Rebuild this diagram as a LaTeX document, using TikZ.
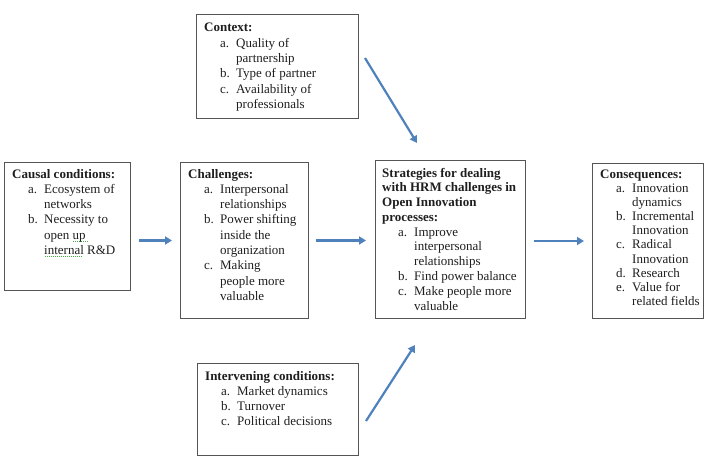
\documentclass[tikz,border=0pt]{standalone}
\usepackage{fontspec}
\setmainfont{Liberation Serif}
\usetikzlibrary{arrows.meta}
\definecolor{arrblue}{RGB}{79,129,189}
\definecolor{boxgray}{RGB}{85,85,85}
\definecolor{txtgray}{RGB}{30,30,30}
\definecolor{spell}{RGB}{70,175,70}
\newcommand\hd[1]{\multicolumn{2}{@{}l@{}}{\textbf{#1}}}
\newcommand\lbl[1]{\hspace*{16pt}\makebox[16pt][l]{#1}}
\newcommand\gl[1]{\begingroup\setbox0\hbox{#1}\rlap{\color{spell}\raisebox{-2.6pt}{\makebox[\wd0]{\leaders\hbox to 2pt{\hss\rule{1pt}{0.8pt}\hss}\hfill}}}\box0\endgroup}
\tikzset{
  box/.style={draw=boxgray, line width=1pt, rectangle, inner sep=0pt, anchor=north west},
  txt/.style={inner sep=0pt, anchor=base west, text=txtgray, font=\fontsize{13}{15.3}\selectfont},
  midtxt/.style={txt, font=\fontsize{13}{14.8}\selectfont},
  tighttxt/.style={txt, font=\fontsize{13}{14.2}\selectfont},
  arr/.style={draw=arrblue, line width=2.2pt, -{Triangle[length=7pt,width=8pt]}}
}
\begin{document}
\begin{tikzpicture}[x=1pt,y=-1pt]
\useasboundingbox (0,0) rectangle (705,460);
% boxes
\node[box, minimum width=126pt, minimum height=128pt] (causal) at (4,162) {};
\node[box, minimum width=128pt, minimum height=156pt] (chal) at (180,162) {};
\node[box, minimum width=150pt, minimum height=158pt] (strat) at (375,160) {};
\node[box, minimum width=111pt, minimum height=155pt] (cons) at (592,163) {};
\node[box, minimum width=162pt, minimum height=104pt] (ctx) at (196,14) {};
\node[box, minimum width=161pt, minimum height=92pt] (interv) at (197,363) {};
% texts
\node[txt] (causalT) at (12,178) {\begin{tabular}[t]{@{}l@{}l@{}}
\hd{Causal conditions:}\\
\lbl{a.}&Ecosystem of\\
&networks\\
\lbl{b.}&Necessity to\\
&open \gl{up\ }\\
&\gl{internal} R\&D
\end{tabular}};
\node[txt] (chalT) at (188,178) {\begin{tabular}[t]{@{}l@{}l@{}}
\hd{Challenges:}\\
\lbl{a.}&Interpersonal\\
&relationships\\
\lbl{b.}&Power shifting\\
&inside the\\
&organization\\
\lbl{c.}&Making\\
&people more\\
&valuable
\end{tabular}};
\node[midtxt] (stratT) at (382,177) {\begin{tabular}[t]{@{}l@{}l@{}}
\hd{Strategies for dealing}\\
\hd{with HRM challenges in}\\
\hd{Open Innovation}\\
\hd{processes:}\\
\lbl{a.}&Improve\\
&interpersonal\\
&relationships\\
\lbl{b.}&Find power balance\\
\lbl{c.}&Make people more\\
&valuable
\end{tabular}};
\node[tighttxt] (consT) at (600,178) {\begin{tabular}[t]{@{}l@{}l@{}}
\hd{Consequences:}\\
\lbl{a.}&Innovation\\
&dynamics\\
\lbl{b.}&Incremental\\
&Innovation\\
\lbl{c.}&Radical\\
&Innovation\\
\lbl{d.}&Research\\
\lbl{e.}&Value for\\
&related fields
\end{tabular}};
\node[txt] (ctxT) at (204,32) {\begin{tabular}[t]{@{}l@{}l@{}}
\hd{Context:}\\
\lbl{a.}&Quality of\\
&partnership\\
\lbl{b.}&Type of partner\\
\lbl{c.}&Availability of\\
&professionals
\end{tabular}};
\node[txt] (intervT) at (205,380) {\begin{tabular}[t]{@{}l@{}l@{}}
\hd{Intervening conditions:}\\
\lbl{a.}&Market dynamics\\
\lbl{b.}&Turnover\\
\lbl{c.}&Political decisions
\end{tabular}};
% arrows
\draw[arr, shorten <=8pt, shorten >=8pt] (causal.east |- chal.west) -- (chal.west);
\draw[arr, shorten <=7pt, shorten >=9pt] (chal.east) -- (chal.east -| strat.west);
\draw[arr, shorten <=8pt, shorten >=8pt] (strat.east |- cons.west) -- (cons.west);
\coordinate (ctxS) at (365,58);
\coordinate (ctxE) at (417,143);
\coordinate (intS) at (366,421);
\coordinate (intE) at (415,345);
\draw[arr] (ctxS) -- (ctxE);
\draw[arr] (intS) -- (intE);
\end{tikzpicture}
\end{document}
